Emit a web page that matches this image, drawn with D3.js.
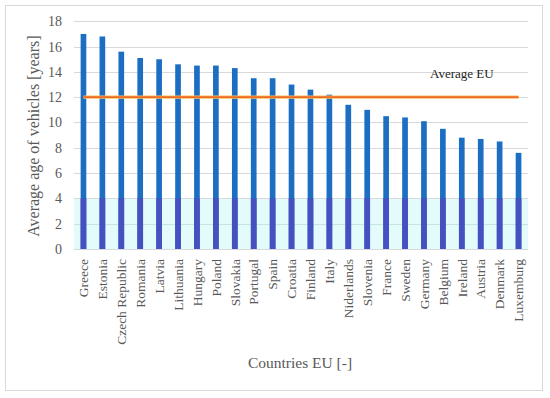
<!DOCTYPE html>
<html><head><meta charset="utf-8">
<script src="https://cdn.jsdelivr.net/npm/d3@7"></script>
<style>body{margin:0;background:#fff}svg{display:block}</style>
</head><body>
<svg id="c" width="550" height="398"></svg>
<script>
const countries = ["Greece","Estonia","Czech Republic","Romania","Latvia","Lithuania","Hungary","Poland","Slovakia","Portugal","Spain","Croatia","Finland","Italy","Niderlands","Slovenia","France","Sweden","Germany","Belgium","Ireland","Austria","Denmark","Luxemburg"];
const ages = [17.0,16.8,15.6,15.1,15.0,14.6,14.5,14.5,14.3,13.5,13.5,13.0,12.6,12.2,11.4,11.0,10.5,10.4,10.1,9.5,8.8,8.7,8.5,7.6];
const averageEU = 12;
const bandMax = 4;
const yTicks = [0,2,4,6,8,10,12,14,16,18];

const svg = d3.select("#c");
const font = "Liberation Serif";
const m = {left:74, right:528, top:21.3, bottom:249};

svg.append("rect").attr("x",5.5).attr("y",5.5).attr("width",537).attr("height",385)
  .attr("fill","#fff").attr("stroke","#d9d9d9").attr("stroke-width",1);

const x = d3.scaleBand().domain(countries).range([m.left,m.right]).paddingInner(0.7).paddingOuter(0.35);
const y = d3.scaleLinear().domain([0,18]).range([m.bottom,m.top]);

// light band 0..4
svg.append("rect").attr("x",m.left).attr("width",m.right-m.left)
  .attr("y",y(bandMax)).attr("height",y(0)-y(bandMax)).attr("fill","#e3fbfb");

// gridlines
svg.append("g").selectAll("line").data(yTicks).join("line")
  .attr("x1",m.left).attr("x2",m.right)
  .attr("y1",d=>Math.round(y(d))+0.5).attr("y2",d=>Math.round(y(d))+0.5)
  .attr("stroke",d=>d>0&&d<bandMax?"#c4e6dc":"#d9d9d9").attr("stroke-width",1);

// y tick labels
const yAxis = d3.axisLeft(y).tickValues(yTicks).tickSize(0).tickPadding(12);
const ga = svg.append("g").attr("transform",`translate(${m.left},0)`).call(yAxis);
ga.select(".domain").remove();
ga.selectAll("text").attr("font-family",font).attr("font-size",14).attr("fill","#595959");

// bars
svg.append("g").selectAll("rect").data(countries).join("rect")
  .attr("x",d=>x(d)).attr("width",x.bandwidth())
  .attr("y",(d,i)=>y(ages[i])).attr("height",(d,i)=>y(0)-y(ages[i]))
  .attr("fill","#1b6ec2");
svg.append("g").selectAll("rect").data(countries).join("rect")
  .attr("x",d=>x(d)).attr("width",x.bandwidth())
  .attr("y",(d,i)=>y(Math.min(ages[i],bandMax))).attr("height",(d,i)=>y(0)-y(Math.min(ages[i],bandMax)))
  .attr("fill","#4650c0");

// average line
const cx = d=>x(d)+x.bandwidth()/2;
svg.append("line").attr("x1",cx(countries[0])).attr("x2",cx(countries[countries.length-1]))
  .attr("y1",y(averageEU)).attr("y2",y(averageEU)).attr("stroke","#f8c060").attr("stroke-width",3.2);
svg.append("line").attr("x1",cx(countries[0])).attr("x2",cx(countries[countries.length-1]))
  .attr("y1",y(averageEU)).attr("y2",y(averageEU)).attr("stroke","#f06a28").attr("stroke-width",1.8);

svg.append("text").attr("x",430).attr("y",78).attr("font-family",font).attr("font-size",13)
  .attr("fill","#222").text("Average EU");

// x labels
const xAxis = d3.axisBottom(x).tickSize(0).tickPadding(0);
const gx = svg.append("g").attr("transform",`translate(0,${m.bottom})`).call(xAxis);
gx.select(".domain").remove();
gx.selectAll("text").attr("font-family",font).attr("font-size",13.5).attr("fill","#595959")
  .attr("transform","rotate(-90)").attr("text-anchor","end").attr("dy","0.35em")
  .attr("x",-10).attr("y",0);

// axis titles
svg.append("text").attr("transform",`translate(39,${(m.top+m.bottom)/2+1}) rotate(-90)`)
  .attr("text-anchor","middle").attr("font-family",font).attr("font-size",16).attr("fill","#595959")
  .text("Average age of vehicles [years]");
svg.append("text").attr("x",300).attr("y",368).attr("text-anchor","middle")
  .attr("font-family",font).attr("font-size",15.5).attr("fill","#595959").text("Countries EU [-]");
</script>
</body></html>
